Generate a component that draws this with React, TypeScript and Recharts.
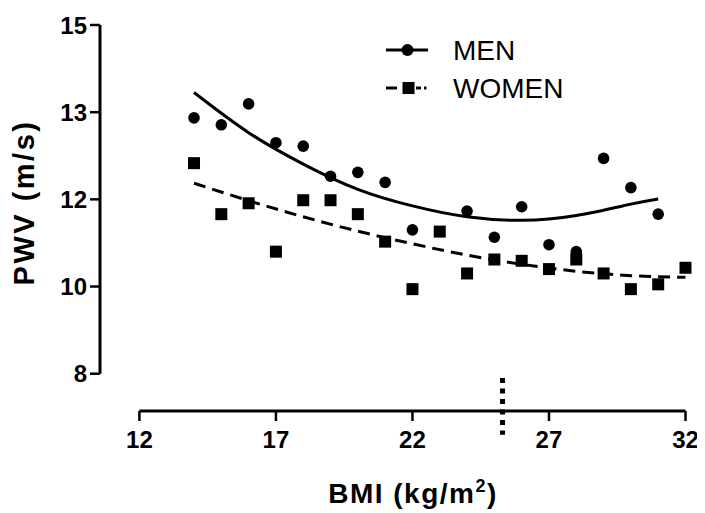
import React from 'react'
import { ComposedChart, Scatter, Line, XAxis, YAxis, ReferenceLine, Legend } from 'recharts'

// individual points: BMI (kg/m2) vs PWV
const menBmi = [14, 15, 16, 17, 18, 19, 20, 21, 22, 24, 25, 26, 27, 28, 29, 30, 31]
const menPwv = [13.87, 13.71, 14.19, 13.3, 13.22, 12.53, 12.62, 12.39, 11.3, 11.73, 11.13, 11.83, 10.96, 10.8, 12.94, 12.27, 11.66]

const womenBmi = [14, 15, 16, 17, 18, 19, 20, 21, 22, 23, 24, 25, 26, 27, 28, 29, 30, 31, 32]
const womenPwv = [12.83, 11.66, 11.91, 10.8, 11.98, 11.98, 11.66, 11.03, 9.94, 11.26, 10.3, 10.62, 10.59, 10.4, 10.62, 10.3, 9.94, 10.05, 10.43]

// fitted curves (read at a few BMI values)
const menFitBmi = [14, 16, 18, 20, 22, 24, 26, 28, 30, 31]
const menFitPwv = [14.45, 13.53, 12.81, 12.23, 11.85, 11.6, 11.52, 11.63, 11.89, 12.01]
const womenFitBmi = [14, 16, 18, 20, 22, 24, 26, 28, 30, 32]
const womenFitPwv = [12.37, 11.97, 11.6, 11.27, 10.98, 10.72, 10.51, 10.35, 10.25, 10.21]

const xTicks = [12, 17, 22, 27, 32]
const yTicks = [8, 10, 12, 14, 16]
const yTickLabels = ['8', '10', '12', '13', '15']
const bmiCutoff = 25.3

const zip = (xs: number[], ys: number[]) => xs.map((x, i) => ({ x, y: ys[i] }))

const menPoints = zip(menBmi, menPwv)
const womenPoints = zip(womenBmi, womenPwv)
const menFit = zip(menFitBmi, menFitPwv)
const womenFit = zip(womenFitBmi, womenFitPwv)

const FONT = '"Liberation Sans", Arial, Helvetica, sans-serif'

const tickStyle = { fill: '#000', fontSize: 24, fontWeight: 'bold', fontFamily: FONT }

const Dot = (props: any) => <circle cx={props.cx} cy={props.cy} r={5.8} fill="#000" />
const Square = (props: any) => (
  <rect x={props.cx - 6} y={props.cy - 6} width={12} height={12} fill="#000" />
)

const LegendBox = () => (
  <svg width={190} height={80}>
    <line x1={8} y1={22} x2={50} y2={22} stroke="#000" strokeWidth={3} />
    <circle cx={29.5} cy={22} r={6} fill="#000" />
    <text x={75} y={32} fontSize={28} fontFamily={FONT}>MEN</text>
    <line x1={8} y1={60} x2={19} y2={60} stroke="#000" strokeWidth={3} />
    <rect x={24.5} y={54} width={12} height={12} fill="#000" />
    <line x1={38} y1={60} x2={43} y2={60} stroke="#000" strokeWidth={3} />
    <line x1={46} y1={60} x2={48.5} y2={60} stroke="#000" strokeWidth={3} />
    <text x={75} y={70} fontSize={28} fontFamily={FONT}>WOMEN</text>
  </svg>
)

export default function App() {
  return (
    <ComposedChart width={697} height={505} margin={{ top: 17, right: 19.5, left: 0, bottom: 0 }}>
      {/* spacer axes keep the real axes detached from the plot, as in the figure */}
      <YAxis yAxisId="yGap" width={39.4} axisLine={false} tickLine={false} tick={false} />
      <XAxis xAxisId="xGap" height={37.3} axisLine={false} tickLine={false} tick={false} />
      <YAxis
        yAxisId="yPwv"
        dataKey="y"
        type="number"
        width={92}
        domain={[8, 16]}
        ticks={yTicks}
        tickFormatter={(v: number) => yTickLabels[yTicks.indexOf(v)]}
        tick={tickStyle}
        tickSize={10}
        tickMargin={3}
        axisLine={{ stroke: '#000', strokeWidth: 3 }}
        tickLine={{ stroke: '#000', strokeWidth: 2.5 }}
        label={{
          content: () => (
            <text
              transform="translate(26,194.5) rotate(-90)"
              textAnchor="middle"
              fontSize={29}
              fontWeight="bold"
              letterSpacing={2.5}
              fontFamily={FONT}
              fill="#000"
            >
              PWV (m/s)
            </text>
          ),
        }}
      />
      <XAxis
        xAxisId="xMain"
        dataKey="x"
        type="number"
        height={102}
        domain={[12, 32]}
        ticks={xTicks}
        tick={tickStyle}
        tickSize={10}
        tickMargin={10}
        axisLine={{ stroke: '#000', strokeWidth: 3 }}
        tickLine={{ stroke: '#000', strokeWidth: 2.5 }}
        label={{
          content: () => (
            <text
              x={405}
              y={494.7}
              textAnchor="middle"
              fontSize={28}
              fontWeight="bold"
              letterSpacing={1.5}
              fontFamily={FONT}
              fill="#000"
            >
              BMI (kg/m
              <tspan fontSize={18} dy={-11}>2</tspan>
              <tspan dy={11}>)</tspan>
            </text>
          ),
        }}
      />
      <Legend
        layout="horizontal"
        verticalAlign="middle"
        align="center"
        wrapperStyle={{ left: 370, top: 20, width: 190 }}
        content={() => <LegendBox />}
      />
      <ReferenceLine
        xAxisId="xMain"
        yAxisId="yPwv"
        ifOverflow="visible"
        segment={[{ x: bmiCutoff, y: 7.9 }, { x: bmiCutoff, y: 6.6 }]}
        stroke="#000"
        strokeWidth={5}
        strokeDasharray="5 5.5"
      />
      <Line
        xAxisId="xMain"
        yAxisId="yPwv"
        data={menFit}
        dataKey="y"
        type="natural"
        stroke="#000"
        strokeWidth={3}
        dot={false}
        activeDot={false}
        isAnimationActive={false}
      />
      <Line
        xAxisId="xMain"
        yAxisId="yPwv"
        data={womenFit}
        dataKey="y"
        type="natural"
        stroke="#000"
        strokeWidth={3}
        strokeDasharray="12 7"
        dot={false}
        activeDot={false}
        isAnimationActive={false}
      />
      <Scatter xAxisId="xMain" yAxisId="yPwv" data={menPoints} shape={Dot} isAnimationActive={false} />
      <Scatter xAxisId="xMain" yAxisId="yPwv" data={womenPoints} shape={Square} isAnimationActive={false} />
    </ComposedChart>
  )
}
